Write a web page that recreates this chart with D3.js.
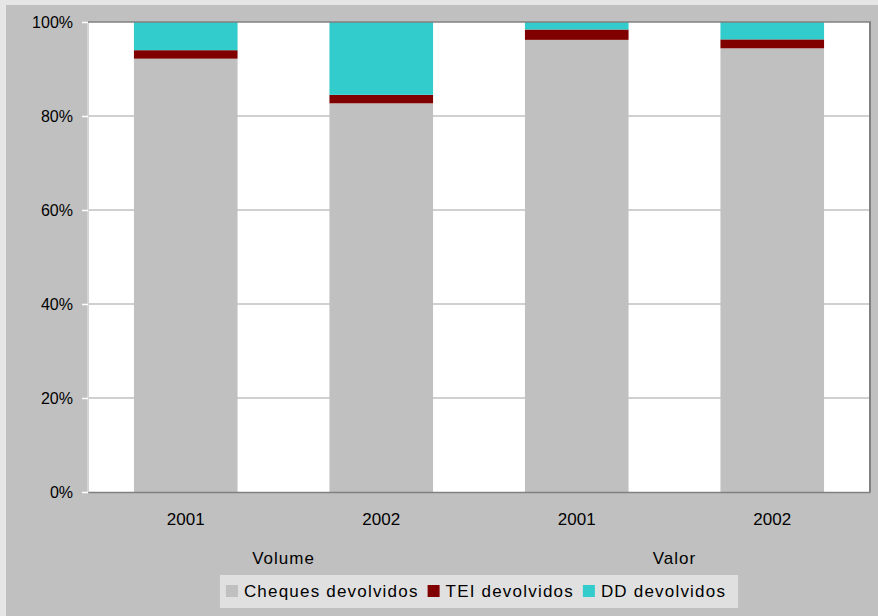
<!DOCTYPE html>
<html>
<head>
<meta charset="utf-8">
<script src="https://cdn.jsdelivr.net/npm/d3@7"></script>
<style>
  html, body { margin: 0; padding: 0; background: #e6e6e6; }
  svg { display: block; font-family: Arial, "Liberation Sans", sans-serif; }
</style>
</head>
<body>
<svg id="chart" width="878" height="616"></svg>
<script>
// Share of returned instruments (%), by volume and by value
const groups = ["Volume", "Valor"];
const years = ["2001", "2002", "2001", "2002"];
const groupOf = [0, 0, 1, 1];
const seriesNames = ["Cheques devolvidos", "TEI devolvidos", "DD devolvidos"];
const seriesColors = ["#c0c0c0", "#800000", "#33cccc"];
const cheques = [92.2, 82.7, 96.2, 94.4];
const tei = [1.8, 1.8, 2.2, 1.9];
const dd = [6.0, 15.5, 1.6, 3.7];
const yTicks = [0, 20, 40, 60, 80, 100];

const svg = d3.select("#chart");
const W = 878, H = 616;
const plot = { left: 88, right: 870, top: 22, bottom: 492 };

// chart area background
svg.append("rect").attr("x", 6).attr("y", 5).attr("width", W - 6).attr("height", H - 5)
  .attr("fill", "#c0c0c0");

const x = d3.scaleBand().domain(d3.range(years.length))
  .range([plot.left, plot.right]).paddingInner(0.47).paddingOuter(0.235);
const y = d3.scaleLinear().domain([0, 100]).range([plot.bottom, plot.top]);

// plot area
svg.append("rect").attr("x", plot.left).attr("y", plot.top)
  .attr("width", plot.right - plot.left).attr("height", plot.bottom - plot.top)
  .attr("fill", "#ffffff");

// gridlines
svg.append("g").selectAll("line").data(yTicks.filter(t => t > 0 && t < 100)).join("line")
  .attr("x1", plot.left).attr("x2", plot.right)
  .attr("y1", d => y(d)).attr("y2", d => y(d))
  .attr("stroke", "#c0c0c0").attr("stroke-width", 1.5);

// stacked bars
const rows = years.map((yr, i) => ({ i, c: cheques[i], t: tei[i], d: dd[i] }));
const stack = d3.stack().keys(["c", "t", "d"])(rows);
svg.append("g").selectAll("g").data(stack).join("g")
  .attr("fill", (s, k) => seriesColors[k])
  .selectAll("rect").data(s => s).join("rect")
  .attr("x", d => x(d.data.i))
  .attr("width", x.bandwidth())
  .attr("y", d => y(d[1]))
  .attr("height", d => y(d[0]) - y(d[1]));

// plot frame
svg.append("line").attr("x1", plot.left).attr("x2", plot.left)
  .attr("y1", plot.top).attr("y2", plot.bottom).attr("stroke", "#d4d4d4").attr("stroke-width", 2);
svg.append("line").attr("x1", plot.left).attr("x2", plot.right + 1)
  .attr("y1", plot.top).attr("y2", plot.top).attr("stroke", "#808080").attr("stroke-width", 1.5);
svg.append("line").attr("x1", plot.right).attr("x2", plot.right)
  .attr("y1", plot.top).attr("y2", plot.bottom).attr("stroke", "#808080").attr("stroke-width", 2);

// y axis
const yAxis = svg.append("g").attr("transform", `translate(${plot.left},0)`)
  .call(d3.axisLeft(y).tickValues(yTicks).tickFormat(d => d + "%").tickSize(6).tickPadding(9));
yAxis.select(".domain").remove();
yAxis.selectAll(".tick line").attr("stroke", "#ffffff").attr("stroke-width", 1.5);
yAxis.selectAll(".tick text").attr("font-size", "16px").attr("fill", "#000")
  .attr("font-family", "Arial, 'Liberation Sans', sans-serif");

// x axis
const xAxis = svg.append("g").attr("transform", `translate(0,${plot.bottom})`)
  .call(d3.axisBottom(x).tickFormat(i => years[i]).tickSize(0).tickPadding(21));
xAxis.select(".domain").attr("stroke", "#808080").attr("stroke-width", 1.5);
xAxis.selectAll(".tick text").attr("font-size", "17px").attr("fill", "#000")
  .attr("font-family", "Arial, 'Liberation Sans', sans-serif");

// group labels
svg.append("g").selectAll("text").data(groups).join("text")
  .attr("x", (g, gi) => d3.mean(d3.range(years.length).filter(i => groupOf[i] === gi), i => x(i) + x.bandwidth() / 2))
  .attr("y", 564)
  .attr("text-anchor", "middle")
  .attr("font-size", "17px")
  .attr("letter-spacing", "1px")
  .text(g => g);

// legend
const legend = svg.append("g");
const legendBg = legend.append("rect").attr("fill", "#e0e0e0");
let cx = 0;
seriesNames.forEach((name, k) => {
  const g = legend.append("g").attr("transform", `translate(${cx},0)`);
  g.append("rect").attr("x", 0).attr("y", -12).attr("width", 12).attr("height", 12)
    .attr("fill", seriesColors[k]);
  const t = g.append("text").attr("x", 18).attr("y", 0)
    .attr("font-size", "17px").attr("letter-spacing", "1.2px").text(name);
  const w = t.node().getComputedTextLength();
  cx += 18 + w + 9;
});
const legW = cx - 9 + 12 + 6;
const legX = (plot.left + plot.right) / 2 - legW / 2;
legend.attr("transform", `translate(${legX + 6},597)`);
legendBg.attr("x", -6).attr("y", -22).attr("width", legW).attr("height", 33);
</script>
</body>
</html>
